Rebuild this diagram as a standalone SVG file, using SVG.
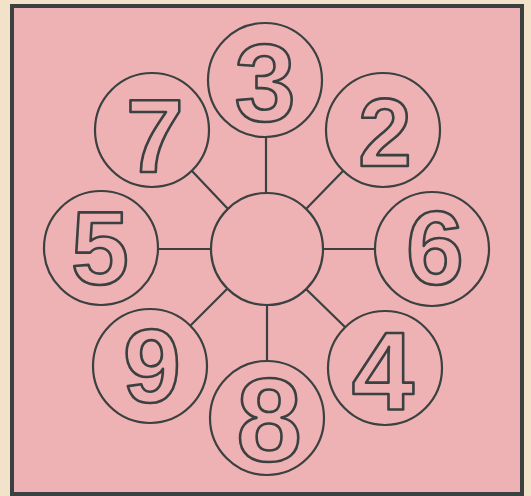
<svg xmlns="http://www.w3.org/2000/svg" width="531" height="496" viewBox="0 0 531 496">
<style>
.bg{fill:#f2e2c9}
.panel{fill:#eeb2b4;stroke:#3b4040;stroke-width:4}
.node circle{fill:#eeb2b4;stroke:#3b4040;stroke-width:2.2}
.node text{font-family:"Liberation Sans",Arial,sans-serif;font-weight:bold;font-size:104px;text-anchor:middle;fill:#eeb2b4;stroke:#3b4040;stroke-width:2.6;stroke-linejoin:round}
.conn line{stroke:#3b4040;stroke-width:2.2}
</style>
<rect class="bg" x="0" y="0" width="531" height="496"/>
<rect class="panel" x="12" y="6" width="510" height="488"/>
<g id="connectors" class="conn">
<line x1="266" y1="137" x2="266" y2="193"/>
<line x1="306" y1="209" x2="343" y2="171"/>
<line x1="323" y1="249" x2="375" y2="249"/>
<line x1="306" y1="289" x2="345" y2="327"/>
<line x1="267" y1="305" x2="267" y2="361"/>
<line x1="227" y1="289" x2="190" y2="326"/>
<line x1="211" y1="249" x2="158" y2="249"/>
<line x1="228" y1="209" x2="192" y2="171"/>
</g>
<g id="center" class="node"><circle cx="267" cy="249" r="56"/></g>
<g id="n3" class="node"><circle cx="265" cy="80" r="57"/><text x="265" y="121" style="font-size:110px">3</text></g>
<g id="n2" class="node"><circle cx="383" cy="130" r="57"/><text x="385" y="166" style="font-size:96px">2</text></g>
<g id="n6" class="node"><circle cx="432" cy="249" r="57"/><text x="435" y="284">6</text></g>
<g id="n4" class="node"><circle cx="385" cy="368" r="57"/><text x="383" y="410" style="font-size:112px">4</text></g>
<g id="n8" class="node"><circle cx="267" cy="418" r="57"/><text x="269" y="461" style="font-size:118px">8</text></g>
<g id="n9" class="node"><circle cx="150" cy="366" r="57"/><text x="152" y="402">9</text></g>
<g id="n5" class="node"><circle cx="101" cy="248" r="57"/><text x="100" y="284">5</text></g>
<g id="n7" class="node"><circle cx="152" cy="130" r="57"/><text x="155" y="172">7</text></g>
</svg>
